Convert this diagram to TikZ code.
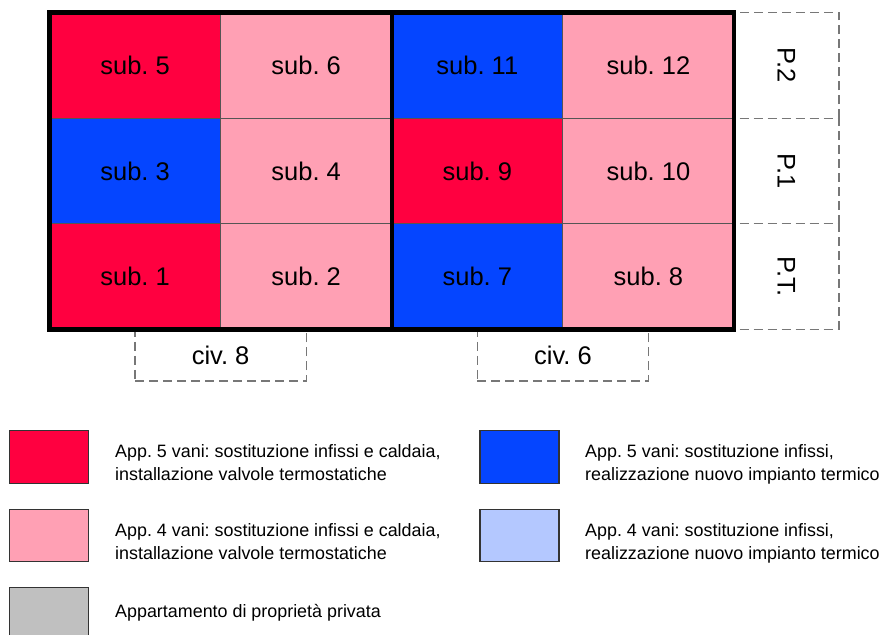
\documentclass[tikz,border=0pt]{standalone}
\usepackage{fontspec}
\setmainfont{Liberation Sans}
\frenchspacing
\definecolor{redc}{HTML}{FF0040}
\definecolor{pinkc}{HTML}{FFA0B4}
\definecolor{bluec}{HTML}{0545FF}
\definecolor{lbluec}{HTML}{B4C8FF}
\definecolor{grayc}{HTML}{C0C0C0}
\definecolor{cellline}{HTML}{555555}
\definecolor{dashc}{HTML}{777777}
\begin{document}
\begin{tikzpicture}[x=1pt,y=-1pt,
  cellbox/.style={draw=cellline, line width=1pt, minimum width=171.1pt, minimum height=105.67pt, inner sep=0pt, outer sep=0pt, font=\fontsize{25.5}{30}\selectfont\frenchspacing},
  dashbox/.style={draw=dashc, line width=1.2pt, dash pattern=on 9pt off 5pt, inner sep=0pt, outer sep=0pt, font=\fontsize{25.5}{30}\selectfont\frenchspacing},
  legswatch/.style={draw=black!80, line width=1.2pt, minimum width=79pt, minimum height=52.6pt, inner sep=0pt, outer sep=0pt},
  legtext/.style={anchor=north west, align=left, inner sep=0pt, font=\fontsize{17.9}{23.3}\selectfont\frenchspacing},
  thick border/.style={line width=4.5pt, line cap=rect}]
\useasboundingbox (0,0) rectangle (882,634);
\fill[white] (0,0) rectangle (882,634);

% dashed label boxes
\node[dashbox, minimum width=171.1pt, minimum height=51.5pt] (civ8) at (220.6,355.25) {civ. 8};
\node[dashbox, minimum width=171.1pt, minimum height=51.5pt] (civ6) at (562.9,355.25) {civ. 6};
\node[dashbox, rotate=-90, minimum width=105.67pt, minimum height=105pt] (p2) at (786.5,65.33) {P.2};
\node[dashbox, rotate=-90, minimum width=105.67pt, minimum height=105pt] (p1) at (786.5,171) {P.1};
\node[dashbox, rotate=-90, minimum width=105.67pt, minimum height=105pt] (pt) at (786.5,276.67) {P.T.};

% cells
\node[cellbox, fill=redc]  (s5)  at (135.06,65.33) {sub. 5};
\node[cellbox, fill=pinkc] (s6)  at (306.19,65.33) {sub. 6};
\node[cellbox, fill=bluec] (s11) at (477.31,65.33) {sub. 11};
\node[cellbox, fill=pinkc] (s12) at (648.44,65.33) {sub. 12};
\node[cellbox, fill=bluec] (s3)  at (135.06,171) {sub. 3};
\node[cellbox, fill=pinkc] (s4)  at (306.19,171) {sub. 4};
\node[cellbox, fill=redc]  (s9)  at (477.31,171) {sub. 9};
\node[cellbox, fill=pinkc] (s10) at (648.44,171) {sub. 10};
\node[cellbox, fill=redc]  (s1)  at (135.06,276.67) {sub. 1};
\node[cellbox, fill=pinkc] (s2)  at (306.19,276.67) {sub. 2};
\node[cellbox, fill=bluec] (s7)  at (477.31,276.67) {sub. 7};
\node[cellbox, fill=pinkc] (s8)  at (648.44,276.67) {sub. 8};

% thick outlines
\draw[thick border] (s5.north west) rectangle (s8.south east);
\draw[thick border] (s11.north west) -- (s7.south west);

% legend
\node[legswatch, fill=redc]   (l1) at (48.8,457) {};
\node[legswatch, fill=pinkc]  (l2) at (48.8,535.5) {};
\node[legswatch, fill=grayc]  (l3) at (48.8,614) {};
\node[legswatch, fill=bluec]  (l4) at (519.5,457) {};
\node[legswatch, fill=lbluec] (l5) at (519.5,535.5) {};

\node[legtext] (t1) at (115,444.5) {App. 5 vani: sostituzione infissi e caldaia,\\installazione valvole termostatiche};
\node[legtext] (t2) at (115,523) {App. 4 vani: sostituzione infissi e caldaia,\\installazione valvole termostatiche};
\node[legtext] (t3) at (115,604) {Appartamento di propriet\`a privata};
\node[legtext] (t4) at (585,444.5) {App. 5 vani: sostituzione infissi,\\realizzazione nuovo impianto termico};
\node[legtext] (t5) at (585,523) {App. 4 vani: sostituzione infissi,\\realizzazione nuovo impianto termico};
\end{tikzpicture}
\end{document}
